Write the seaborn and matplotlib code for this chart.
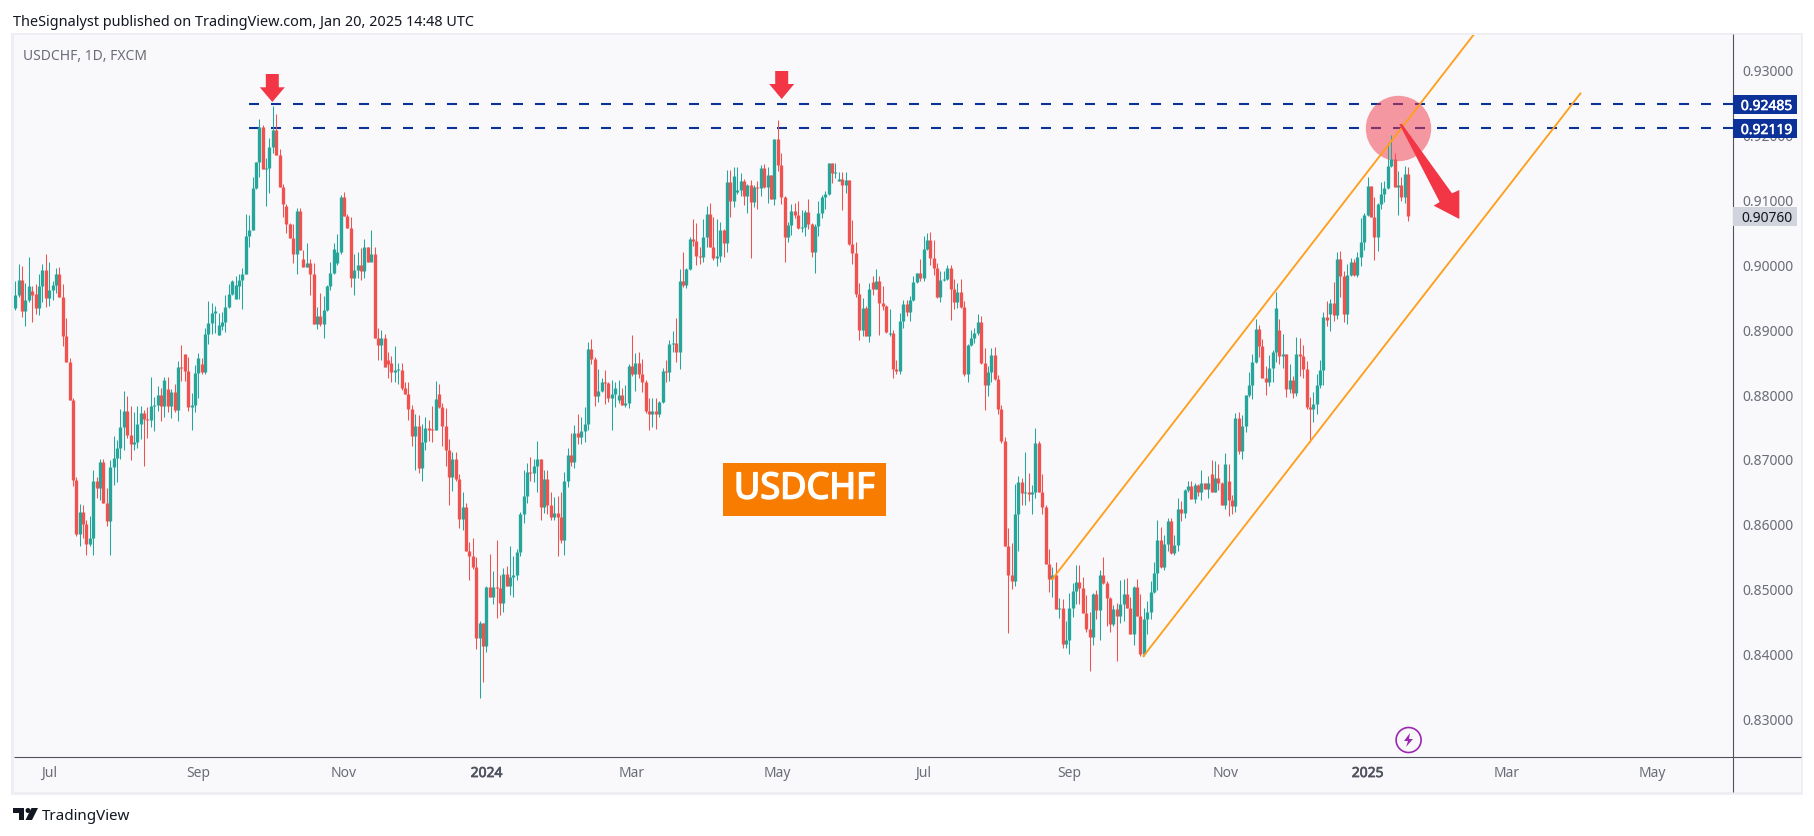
import matplotlib
matplotlib.use("Agg")
import numpy as np
import pandas as pd
import seaborn as sns
import matplotlib.pyplot as plt
import matplotlib.patheffects as pe
from matplotlib.patches import Rectangle, Polygon, Ellipse
from matplotlib.lines import Line2D

# USDCHF daily candles, in units of 0.0001
first_open = 8934
closes = [
8955,8978,8930,8947,8968,8955,8934,8968,8993,8950, 8962,8970,8987,8951,8891,8851,8793,8669,8586,8620,
8601,8570,8580,8668,8657,8697,8634,8606,8689,8703, 8718,8751,8776,8739,8725,8728,8756,8772,8763,8762,
8783,8785,8800,8783,8823,8783,8805,8777,8843,8842, 8837,8782,8785,8834,8857,8836,8894,8911,8927,8930,
8908,8913,8936,8956,8976,8970,8978,8987,9046,9055, 9120,9159,9214,9148,9151,9183,9209,9171,9121,9095,
9064,9043,9018,9084,9023,8998,9003,8987,8910,8922, 8910,8931,8968,8989,9026,9020,9106,9077,9058,8981,
8993,9001,8992,9029,9006,9017,8888,8877,8888,8843, 8848,8836,8839,8839,8811,8802,8779,8737,8752,8688,
8728,8749,8746,8746,8794,8782,8752,8715,8674,8702, 8671,8609,8627,8560,8551,8534,8425,8448,8412,8503,
8489,8503,8502,8479,8523,8506,8519,8522,8557,8616, 8644,8681,8679,8690,8702,8627,8670,8630,8611,8618,
8611,8576,8667,8707,8696,8741,8735,8744,8756,8871, 8856,8798,8806,8820,8818,8795,8802,8811,8800,8785,
8788,8845,8832,8849,8832,8820,8775,8771,8775,8771, 8789,8837,8835,8879,8880,8866,8976,8970,8994,9041,
9038,9014,9013,9044,9079,9028,9011,9014,9055,9034, 9129,9099,9138,9116,9130,9107,9124,9098,9121,9119,
9150,9121,9139,9102,9195,9155,9105,9044,9062,9084, 9078,9058,9059,9082,9064,9021,9061,9081,9105,9110,
9158,9143,9144,9133,9124,9132,9033,9019,8956,8900, 8934,8891,8964,8964,8976,8942,8937,8897,8896,8840,
8837,8914,8940,8928,8947,8974,8988,8980,9025,9039, 9011,8996,8951,8977,8979,8996,8964,8943,8959,8936,
8832,8877,8888,8896,8913,8849,8815,8835,8862,8825, 8778,8729,8567,8522,8513,8616,8665,8648,8651,8647,
8651,8726,8650,8627,8539,8516,8522,8469,8472,8415, 8422,8472,8497,8511,8502,8463,8439,8426,8493,8468,
8522,8510,8486,8446,8469,8459,8477,8493,8472,8431, 8503,8459,8400,8454,8465,8496,8525,8576,8534,8570,
8605,8556,8568,8624,8618,8653,8659,8639,8661,8651, 8664,8655,8664,8650,8672,8664,8630,8693,8638,8628,
8764,8714,8752,8800,8815,8851,8902,8876,8826,8820, 8842,8866,8934,8860,8863,8809,8823,8803,8863,8860,
8840,8782,8779,8786,8816,8839,8920,8916,8942,8924, 9010,8983,8925,8985,9005,8985,9013,9036,9078,9122,
9074,9044,9095,9110,9119,9153,9164,9121,9124,9105,9141,9076]
highs = [
8976,9002,8999,8973,9013,8968,8972,8987,9002,9018, 9005,8976,8996,8998,8972,8919,8857,8796,8674,8632,
8631,8607,8614,8685,8674,8702,8702,8657,8700,8737, 8731,8779,8806,8799,8783,8774,8783,8783,8777,8782,
8828,8797,8814,8811,8828,8828,8810,8817,8853,8877, 8864,8859,8803,8847,8865,8857,8904,8945,8942,8938,
8927,8928,8955,8972,8978,8984,8987,8996,9080,9078, 9137,9160,9226,9217,9165,9196,9246,9234,9179,9125,
9095,9066,9064,9089,9088,9024,9034,9010,9003,8936, 8958,8953,8970,9005,9035,9049,9108,9114,9080,9075,
9018,9020,9027,9041,9029,9054,9029,8904,8901,8894, 8867,8860,8876,8850,8850,8820,8820,8785,8771,8769,
8756,8766,8762,8783,8822,8817,8788,8780,8732,8712, 8712,8678,8651,8633,8573,8580,8550,8451,8448,8506,
8554,8528,8576,8522,8533,8536,8567,8551,8562,8619, 8685,8695,8704,8701,8729,8702,8685,8685,8651,8642,
8644,8650,8681,8718,8741,8753,8771,8766,8781,8882, 8886,8859,8840,8826,8839,8820,8823,8820,8823,8811,
8815,8848,8893,8865,8866,8856,8823,8795,8795,8795, 8791,8842,8854,8885,8899,8919,8994,9021,8996,9044,
9072,9065,9028,9072,9092,9096,9075,9072,9067,9056, 9147,9147,9152,9152,9143,9133,9126,9132,9124,9130,
9155,9156,9152,9139,9195,9224,9173,9107,9067,9095, 9096,9099,9085,9085,9102,9065,9064,9099,9109,9115,
9158,9158,9158,9144,9144,9144,9132,9070,9036,8973, 8950,8937,8973,8984,8994,8984,8968,8939,8933,8900,
8854,8927,8947,8947,8953,8984,8988,9010,9045,9050, 9051,9039,9004,8991,8991,9001,9001,8979,8973,8979,
8945,8879,8900,8903,8925,8922,8873,8845,8873,8874, 8831,8785,8735,8594,8571,8662,8675,8672,8712,8679,
8661,8749,8729,8678,8631,8562,8534,8542,8486,8485, 8452,8494,8510,8537,8537,8519,8491,8465,8494,8499,
8530,8550,8513,8488,8476,8479,8514,8516,8517,8489, 8506,8516,8493,8472,8482,8513,8542,8607,8597,8584,
8610,8610,8584,8641,8636,8655,8668,8668,8664,8662, 8685,8664,8675,8699,8698,8693,8665,8710,8693,8645,
8772,8774,8769,8800,8835,8863,8917,8908,8887,8845, 8862,8870,8959,8917,8894,8863,8848,8829,8890,8888,
8877,8853,8797,8805,8833,8854,8928,8945,8948,8974, 9020,9022,8991,9002,9011,9010,9020,9073,9081,9136,
9122,9105,9096,9128,9130,9189,9201,9173,9145,9136,9153,9152]
lows = [
8931,8951,8921,8907,8944,8913,8925,8924,8944,8936, 8938,8947,8958,8951,8876,8851,8793,8660,8583,8567,
8580,8553,8567,8553,8641,8638,8634,8598,8553,8661, 8666,8702,8715,8734,8700,8715,8718,8732,8691,8734,
8751,8745,8776,8760,8766,8773,8765,8774,8760,8822, 8822,8776,8746,8773,8796,8833,8833,8879,8894,8896,
8893,8901,8897,8934,8955,8948,8948,8933,8986,9029, 9055,9118,9137,9148,9092,9111,9174,9171,9121,9074,
9050,9043,9003,8987,9023,8997,8998,8955,8910,8902, 8907,8888,8930,8962,8987,9001,9018,9077,9058,8966,
8955,8980,8978,8981,9006,9009,8888,8854,8854,8843, 8826,8820,8820,8817,8808,8802,8762,8722,8685,8680,
8668,8715,8729,8728,8746,8780,8722,8691,8631,8652, 8668,8594,8591,8560,8514,8531,8408,8333,8357,8403,
8488,8477,8456,8460,8465,8506,8491,8488,8514,8551, 8602,8633,8668,8665,8650,8607,8618,8616,8607,8607,
8551,8571,8553,8658,8690,8688,8724,8724,8727,8746, 8848,8783,8789,8805,8786,8789,8746,8781,8788,8785,
8781,8780,8829,8806,8826,8805,8772,8746,8751,8748, 8766,8788,8820,8822,8866,8851,8840,8967,8965,8993,
9030,9001,9002,9005,9028,9028,9008,8999,9005,9013, 9021,9075,9090,9110,9107,9093,9081,9011,9090,9087,
9107,9119,9096,9102,9093,9146,9095,9005,9036,9047, 9073,9056,9051,9045,9056,9013,8988,9045,9073,9087,
9109,9127,9135,9130,9085,9112,9031,9002,8951,8885, 8891,8891,8882,8954,8964,8893,8931,8896,8891,8826,
8832,8832,8903,8922,8914,8945,8973,8976,8976,9024, 9001,8985,8950,8943,8976,8977,8916,8933,8934,8934,
8829,8820,8876,8880,8893,8848,8777,8798,8820,8823, 8771,8726,8567,8432,8500,8505,8559,8631,8631,8636,
8616,8641,8650,8616,8539,8496,8489,8469,8456,8409, 8409,8400,8457,8477,8477,8463,8434,8374,8414,8455,
8422,8508,8443,8434,8443,8389,8448,8452,8472,8431, 8414,8459,8397,8397,8431,8454,8494,8499,8533,8530,
8560,8554,8553,8559,8605,8610,8651,8639,8633,8644, 8638,8655,8641,8650,8650,8653,8630,8624,8614,8616,
8619,8709,8701,8743,8797,8794,8849,8859,8826,8800, 8814,8820,8851,8848,8842,8797,8803,8795,8799,8829,
8826,8779,8728,8758,8771,8811,8816,8907,8899,8914, 8917,8951,8912,8909,8983,8983,8982,8999,9024,9076,
9074,9008,9022,9087,9098,9118,9152,9121,9078,9099,9096,9068]
# candle number (from 1) -> open, where it differs from the previous close
gap_opens = {6:8961,7:8956,46:8810,51:8864,56:8848,61:8893,62:8907,66:8948,67:8968,81:9091,86:9010,
             96:9004,111:8854,112:8850,124:8748,126:8802,179:8792,214:9113,244:9131,254:8974,259:8894,
             354:8678,359:8668,374:8900,389:8925}

price_ticks = [0.83,0.84,0.85,0.86,0.87,0.88,0.89,0.90,0.91,0.92,0.93]
time_labels = ["Jul","Sep","Nov","2024","Mar","May","Jul","Sep","Nov","2025","Mar","May"]
time_candles = [10,54,97,139,182,225,268,311,357,399,440,483]
level_prices = [0.92485,0.92119]
last_price = 0.90760
upper_channel_candle = [305.8,430.7]
upper_channel_price = [0.85145,0.93586]
lower_channel_candle = [332.7,462.0]
lower_channel_price = [0.83957,0.92665]
title = "TheSignalyst published on TradingView.com, Jan 20, 2025 14:48 UTC"

W,H = 1815,836
sns.set_theme(style="white")
plt.rcParams.update({"font.family":["Noto Sans","DejaVu Sans"],"lines.solid_capstyle":"butt"})
PANE="#f9f9fc"; EDGE="#eeeef4"; AXC="#50535e"; TXT="#6a6d78"
GREEN="#26a69a"; RED="#ef5350"; ARROW="#f23645"; NAVY="#0c3299"
def heavy(w,col):
    return [pe.withStroke(linewidth=w,foreground=col)]

fig = plt.figure(figsize=(W/100,H/100),dpi=100,facecolor="white")
def frect(x0,y0,x1,y1,**k):
    fig.add_artist(Rectangle((x0/W,1-y1/H),(x1-x0)/W,(y1-y0)/H,transform=fig.transFigure,linewidth=0,**k))
def fline(x0,y0,x1,y1,**k):
    fig.add_artist(Line2D([x0/W,x1/W],[1-y0/H,1-y1/H],transform=fig.transFigure,**k))
frect(11,33,1803,795,facecolor=EDGE,zorder=-3)
frect(14,35,1801,792,facecolor=PANE,zorder=-2)

AL,AR,AT,AB = 14,1733,35,757
ax = fig.add_axes([AL/W,1-AB/H,(AR-AL)/W,(AB-AT)/H],facecolor=PANE)
X0,DX = 15.3,3.389
PX0,PY0,PS = 0.93,71.0,6480.0
def dx(px): return (px-X0)/DX
def dy(py): return PX0-(py-PY0)/PS
ax.set_xlim(dx(AL),dx(AR)); ax.set_ylim(dy(AB),dy(AT))

c = np.array(closes)/1e4; h = np.array(highs)/1e4; l = np.array(lows)/1e4
o = np.r_[first_open/1e4,c[:-1]]
for k,v in gap_opens.items(): o[k-1]=v/1e4
n = len(c); idx = np.arange(n)
kind = np.where(c>=o,"up","down")
pal = {"up":GREEN,"down":RED}

for p,lev in enumerate(level_prices):
    ax.plot([dx(249),dx(AR)],[lev,lev],color=NAVY,lw=1.5,ls=(0,(4.8,5.76)),dash_capstyle="butt",zorder=2)

wicks = pd.DataFrame({"candle":np.r_[idx,idx],"price":np.r_[l,h],"kind":np.r_[kind,kind]})
sns.lineplot(data=wicks,x="candle",y="price",units="candle",estimator=None,hue="kind",palette=pal,
             legend=False,sort=False,lw=0.75,ax=ax,zorder=3)
mid=(o+c)/2; half=np.maximum(np.abs(o-c)/2,0.00008)
bodies = pd.DataFrame({"candle":np.r_[idx,idx],"price":np.r_[mid-half,mid+half],"kind":np.r_[kind,kind]})
sns.lineplot(data=bodies,x="candle",y="price",units="candle",estimator=None,hue="kind",palette=pal,
             legend=False,sort=False,lw=2.4,ax=ax,zorder=3)

ax.plot(upper_channel_candle,upper_channel_price,color="#ff9f1c",lw=1.35,zorder=4)
ax.plot(lower_channel_candle,lower_channel_price,color="#ff9f1c",lw=1.35,zorder=4)
sns.scatterplot(x=[dx(1398.5)],y=[dy(128)],s=(65.4*0.72)**2,color=ARROW,alpha=0.5,linewidth=0,ax=ax,legend=False,zorder=2.5)

def poly(pts,**k):
    ax.add_patch(Polygon([(dx(a),dy(b)) for a,b in pts],closed=True,linewidth=0,**k))
def down_arrow(xc,top,neck,tip):
    poly([(xc-6.5,top),(xc+6.5,top),(xc+6.5,neck),(xc+12.5,neck),(xc,tip),(xc-12.5,neck),(xc-6.5,neck)],facecolor=ARROW,zorder=6)
down_arrow(272.3,74,87.3,102)
down_arrow(781.7,71,84,99)
zz=lambda a,b:(1300+a/3,b/3)
poly([zz(298,372),zz(306,372),zz(456,580),zz(478,570),zz(478,657),zz(401,617),zz(419,606)],facecolor=ARROW,zorder=6)

# labelled box
ax.add_patch(Rectangle((dx(723),dy(516)),dx(886)-dx(723),dy(463)-dy(516),facecolor="#f77c00",linewidth=0,zorder=6))
ax.text(dx(804.5),dy(489.5),"USDCHF",color="white",fontsize=26,ha="center",va="center",zorder=7,
        path_effects=heavy(1.2,"white"))

# axes furniture
sns.despine(ax=ax,left=True,bottom=True,right=True,top=True)
ax.set_xlabel("");ax.set_ylabel("")
ax.yaxis.tick_right()
ax.set_yticks(price_ticks); ax.set_yticklabels([f"{v:.5f}" for v in price_ticks],fontsize=10,color=TXT)
ax.set_xticks(time_candles); ax.set_xticklabels(time_labels,fontsize=10,color=TXT)
for t,lab in zip(ax.get_xticklabels(),time_labels):
    if lab.isdigit():
        t.set_color("#50535e"); t.set_path_effects(heavy(0.5,"#50535e"))
ax.tick_params(axis="both",length=0)
ax.tick_params(axis="y",pad=6.5)
ax.tick_params(axis="x",pad=6.5)
ax.grid(False)

fline(1733,34,1733,792,color=AXC,lw=0.8,zorder=4)
fline(14,757,1801,757,color=AXC,lw=0.8,zorder=4)

def tag(py,text,face,col,stroke=0.0):
    frect(1733.5,py-9.5,1797,py+9.5,facecolor=face,zorder=5)
    t=fig.text(1766.5/W,1-py/H,text,color=col,fontsize=10,ha="center",va="center_baseline",zorder=6)
    if stroke: t.set_path_effects(heavy(stroke,col))
tag(104.5,f"{level_prices[0]:.5f}",NAVY,"white",0.4)
tag(128.5,f"{level_prices[1]:.5f}",NAVY,"white",0.4)
tag(216,f"{last_price:.5f}","#d1d4dc","#131722")

fig.text(13/W,1-20/H,title,color="#131722",fontsize=10.4,ha="left",va="center_baseline")
fig.text(23/W,1-54/H,"USDCHF, 1D, FXCM",color=TXT,fontsize=10,ha="left",va="center_baseline")

# TradingView mark
frect(13,808,24,813,facecolor="#131722")
frect(19,808,24,820,facecolor="#131722")
fig.add_artist(Ellipse((28/W,1-810.5/H),5/W,5/H,transform=fig.transFigure,facecolor="#131722",linewidth=0))
fig.add_artist(Polygon([(31.5/W,1-808/H),(38/W,1-808/H),(32/W,1-820/H),(25.5/W,1-820/H)],transform=fig.transFigure,facecolor="#131722",linewidth=0))
fig.text(42/W,1-814/H,"TradingView",color="#131722",fontsize=10.9,ha="left",va="center_baseline")

# lightning badge
sns.scatterplot(x=[dx(1408.6)],y=[dy(740)],s=(25*0.72)**2,facecolor="none",edgecolor="#9c27b0",linewidth=1.2,ax=ax,legend=False,zorder=6)
poly([(1410,733),(1404,741),(1408,741),(1406,747),(1413,739),(1409,739)],facecolor="#9c27b0",zorder=6)

fig.savefig("out.png",dpi=100,facecolor="white")
